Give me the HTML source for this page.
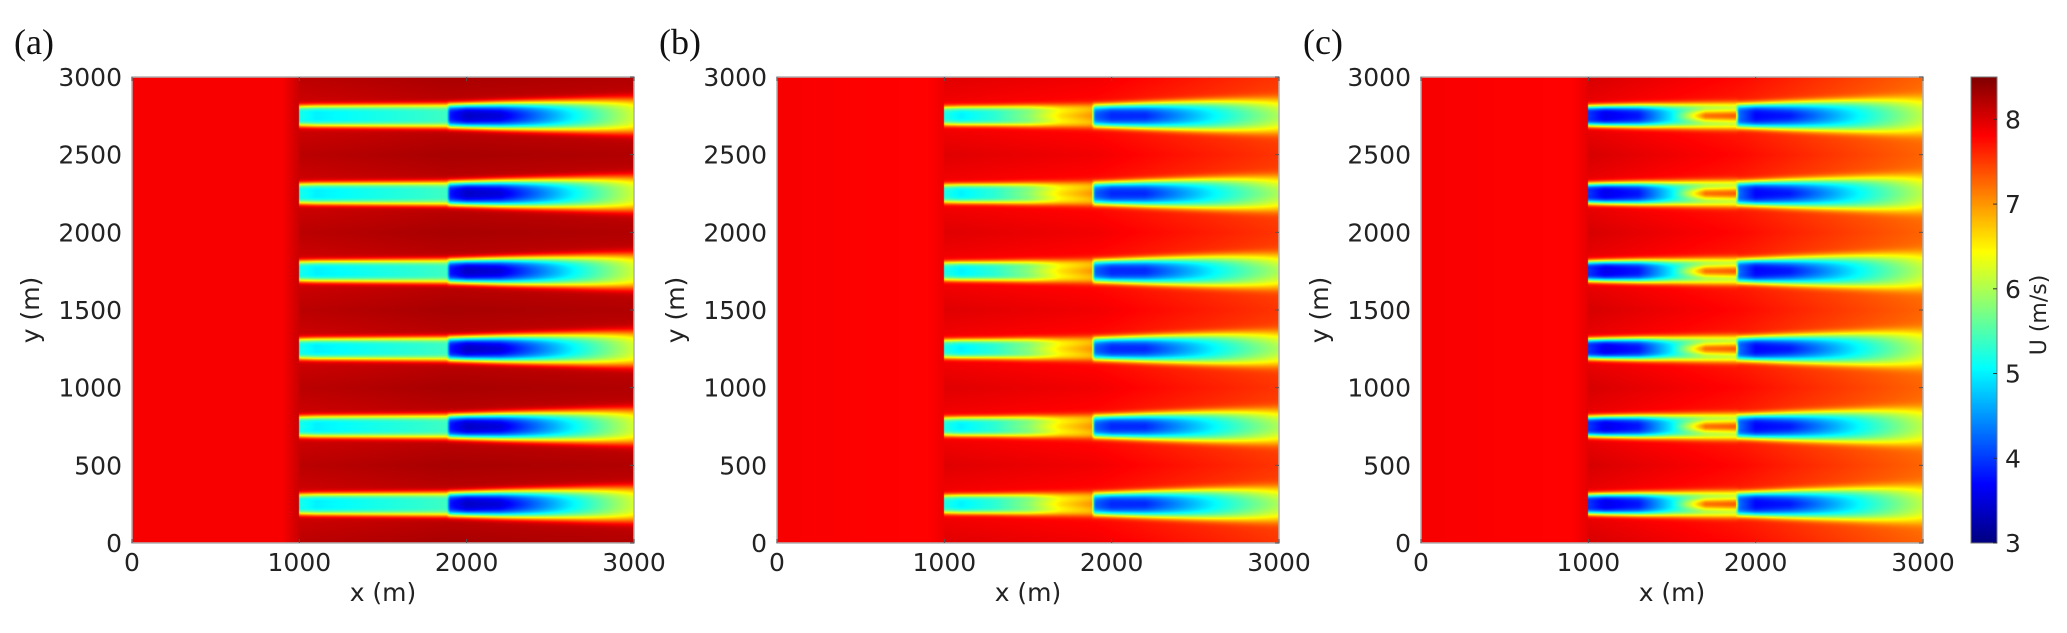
<!DOCTYPE html>
<html><head><meta charset="utf-8"><style>
html,body{margin:0;padding:0;background:#fff;}
#root{position:relative;width:2067px;height:633px;overflow:hidden;font-family:"DejaVu Sans","Liberation Sans",sans-serif;}
canvas{position:absolute;}
svg{position:absolute;left:0;top:0;}
</style></head><body>
<div id="root">
<canvas id="cA" width="502" height="466" style="left:132px;top:77px"></canvas>
<canvas id="cB" width="502" height="466" style="left:777px;top:77px"></canvas>
<canvas id="cC" width="502" height="466" style="left:1421px;top:77px"></canvas>
<canvas id="cbar" width="26" height="466" style="left:1971px;top:77px"></canvas>
<svg id="ov" width="2067" height="633"></svg>
</div>
<script>
// ---- data ----
const rowsY = [250, 750, 1250, 1750, 2250, 2750];
const turbX = [1000, 1900];
const xTicks = [0, 1000, 2000, 3000];
const yTicks = [0, 500, 1000, 1500, 2000, 2500, 3000];
const cbTicks = [3, 4, 5, 6, 7, 8];
const panelLabels = ["(a)", "(b)", "(c)"];
const wakeXs = [1000, 1100, 1300, 1500, 1700, 1880, 1900, 2000, 2200, 2600, 3000];
// centreline speed
const centerA = [5.2, 5.0, 5.1, 5.2, 5.3, 5.4, 3.8, 3.4, 3.5, 4.9, 6.2];
const centerB = [5.2, 5.0, 5.3, 5.8, 6.6, 7.0, 4.2, 3.9, 3.9, 5.0, 6.0];
const centerC = [4.0, 3.6, 3.8, 5.0, 7.2, 7.3, 4.3, 3.7, 3.8, 5.0, 6.1];
// ring (edge) speed
const ringA = [5.0, 4.9, 5.0, 5.1, 5.2, 5.3, 3.9, 3.6, 3.9, 5.1, 6.3];
const ringB = [5.2, 5.0, 5.2, 5.6, 6.3, 6.6, 4.4, 4.1, 4.3, 5.2, 6.3];
const ringC = [3.8, 3.6, 4.0, 5.0, 5.4, 5.6, 4.1, 3.8, 4.3, 5.2, 6.3];
// wake half-width (m)
const widthA = [60, 62, 64, 66, 68, 70, 70, 72, 78, 90, 105];
const widthB = [55, 56, 58, 62, 66, 70, 66, 68, 75, 90, 105];
const widthC = [60, 62, 66, 70, 74, 76, 70, 72, 80, 95, 112];
// background speed along x
const bgXs = [0, 900, 1000, 1900, 3000];
const bgA = [7.85, 7.85, 8.1, 8.2, 8.15];
const bgB = [7.85, 7.8, 7.9, 7.8, 7.45];
const bgC = [7.85, 7.8, 7.95, 7.7, 7.2];
const cmin = 3, cmax = 8.5;

function interp(xs, vs, x){
  if (x <= xs[0]) return vs[0];
  for (let i = 1; i < xs.length; i++) if (x <= xs[i]) { const t = (x - xs[i-1])/(xs[i]-xs[i-1]); return vs[i-1] + t*(vs[i]-vs[i-1]); }
  return vs[vs.length-1];
}
function jet(v){
  let t = (v - cmin)/(cmax - cmin); t = Math.max(0, Math.min(1, t));
  const s = [[0,0,0,.5],[.125,0,0,1],[.375,0,1,1],[.625,1,1,0],[.875,1,0,0],[1,.5,0,0]];
  for (let i = 1; i < s.length; i++) if (t <= s[i][0]) { const u = (t - s[i-1][0])/(s[i][0]-s[i-1][0]); return [0,1,2].map(k => 255*(s[i-1][k+1] + u*(s[i][k+1]-s[i-1][k+1]))); }
  return [128,0,0];
}
function field(x, y, center, ring, width, bg){
  let ub = interp(bgXs, bg, x);
  let dmin = 1e9; for (const ry of rowsY) dmin = Math.min(dmin, Math.abs(y - ry));
  if (x > turbX[0]) ub += 0.16 * Math.min(1, dmin/250) - 0.08;
  if (x < turbX[0] || dmin > 450) return ub;
  const uc = interp(wakeXs, center, x), ur = interp(wakeXs, ring, x), hw = interp(wakeXs, width, x);
  const r = dmin/hw;
  const S = Math.exp(-0.69*Math.pow(r, 4));
  const C = Math.exp(-Math.pow(r/0.55, 2));
  return ub + (ur - ub)*S + (uc - ur)*C*S;
}
function draw(id, center, ring, width, bg){
  const cv = document.getElementById(id), ctx = cv.getContext('2d');
  const W = cv.width, H = cv.height, img = ctx.createImageData(W, H);
  for (let j = 0; j < H; j++) {
    const y = 3000*(1 - (j+0.5)/H);
    for (let i = 0; i < W; i++) {
      const x = 3000*(i+0.5)/W;
      const c = jet(field(x, y, center, ring, width, bg));
      const p = 4*(j*W+i); img.data[p]=c[0]; img.data[p+1]=c[1]; img.data[p+2]=c[2]; img.data[p+3]=255;
    }
  }
  ctx.putImageData(img, 0, 0);
}
draw('cA', centerA, ringA, widthA, bgA);
draw('cB', centerB, ringB, widthB, bgB);
draw('cC', centerC, ringC, widthC, bgC);
(function(){
  const cv = document.getElementById('cbar'), ctx = cv.getContext('2d');
  for (let j = 0; j < cv.height; j++) { const v = cmax - (cmax-cmin)*(j+0.5)/cv.height; const c = jet(v); ctx.fillStyle = `rgb(${c[0]|0},${c[1]|0},${c[2]|0})`; ctx.fillRect(0, j, cv.width, 1); }
})();

// ---- axes ----
const NS = "http://www.w3.org/2000/svg";
const ov = document.getElementById('ov');
function el(tag, attrs, text){ const e = document.createElementNS(NS, tag); for (const k in attrs) e.setAttribute(k, attrs[k]); if (text !== undefined) e.textContent = text; ov.appendChild(e); return e; }
const panelLeft = [132, 777, 1421], plotTop = 77, pw = 502, ph = 466;
panelLeft.forEach((L, p) => {
  const sx = v => L + v/3000*pw, sy = v => plotTop + ph - v/3000*ph;
  const box = el('rect', {x: L, y: plotTop, width: pw, height: ph, fill: 'none', stroke: '#b0b0b0', 'stroke-width': 1.5});
  
  
  xTicks.forEach(v => {
    const t = el('text', {x: sx(v), y: 571, 'font-size': 25, fill: '#222', 'text-anchor': 'middle'}, v);
    
    
    el('line', {x1: sx(v), x2: sx(v), y1: plotTop, y2: plotTop+4, stroke: '#555'});
    el('line', {x1: sx(v), x2: sx(v), y1: plotTop+ph, y2: plotTop+ph-4, stroke: '#555'});
  });
  yTicks.forEach(v => {
    const t = el('text', {x: L-10, y: sy(v)+9, 'font-size': 25, fill: '#222', 'text-anchor': 'end'}, v);
    
    
    el('line', {x1: L+pw, x2: L+pw-4, y1: sy(v), y2: sy(v), stroke: '#555'});
  });
  const xl = el('text', {x: L+pw/2, y: 601, 'font-size': 25, fill: '#222', 'text-anchor': 'middle'}, 'x (m)');
  
  
  const yl = el('text', {x: 0, y: 0, 'font-size': 25, fill: '#222', 'text-anchor': 'middle', transform: `translate(${L-93},${plotTop+ph/2}) rotate(-90)`}, 'y (m)');
  
  
  const pl = el('text', {x: L-118, y: 54, 'font-size': 36, fill: '#111', 'font-family': '"Liberation Serif", serif'}, panelLabels[p]);
  
  
});
const cbx = 1971, cbw = 26;
const cy = v => plotTop + ph - (v - cmin)/(cmax - cmin)*ph;
const cbf = el('rect', {x: cbx, y: plotTop, width: cbw, height: ph, fill: 'none', stroke: '#777', 'stroke-width': 1});


cbTicks.forEach(v => {
  el('line', {x1: cbx+cbw, x2: cbx+cbw-4, y1: cy(v), y2: cy(v), stroke: '#333'});
  const t = el('text', {x: cbx+cbw+8, y: cy(v)+9, 'font-size': 25, fill: '#222'}, v);
  
  
});
const cbl = el('text', {x: 0, y: 0, 'font-size': 22, fill: '#222', 'text-anchor': 'middle', transform: `translate(2046,${plotTop+ph/2+5}) rotate(-90)`}, 'U (m/s)');


</script>
</body></html>
